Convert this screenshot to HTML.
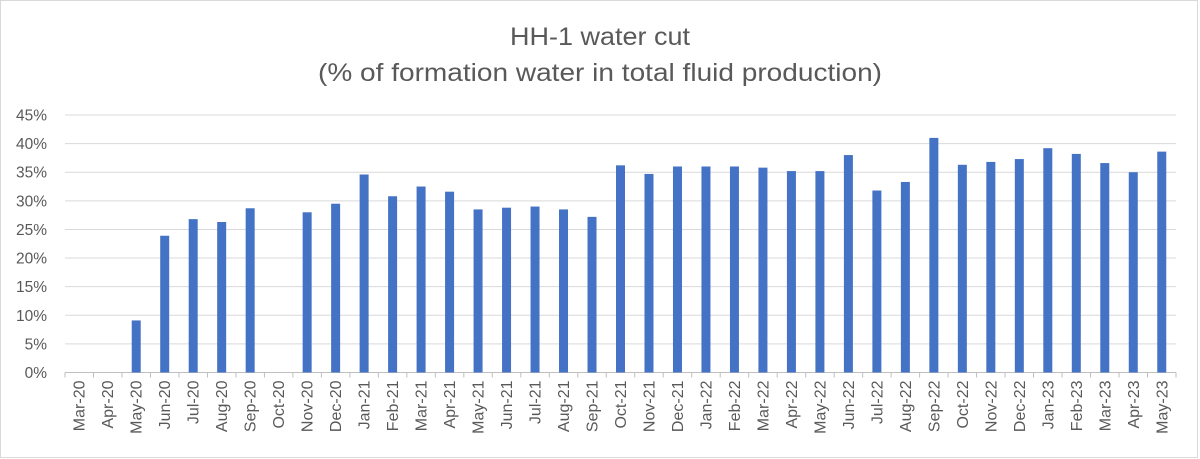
<!DOCTYPE html>
<html><head><meta charset="utf-8"><style>
html,body{margin:0;padding:0;background:#fff;}
svg{display:block;font-family:"Liberation Sans",sans-serif;}
</style></head><body>
<svg id="c" width="1200" height="459" xmlns="http://www.w3.org/2000/svg">
<rect x="0.5" y="0.5" width="1197" height="457" fill="#fff" stroke="#d9d9d9"/>
<text x="600" y="45" font-size="25" fill="#595959" text-anchor="middle" textLength="180" lengthAdjust="spacingAndGlyphs">HH-1 water cut</text>
<text x="600" y="81" font-size="25" fill="#595959" text-anchor="middle" textLength="564" lengthAdjust="spacingAndGlyphs">(% of formation water in total fluid production)</text>
<g id="g"></g>
</svg>
<script>
var g=document.getElementById('g'),ns="http://www.w3.org/2000/svg";
function el(t,a,txt){var e=document.createElementNS(ns,t);for(var k in a)e.setAttribute(k,a[k]);if(txt!=null)e.textContent=txt;g.appendChild(e);return e;}
var x0=65,x1=1176,y0=372.5,yt=115,per=(y0-yt)/45;
for(var i=0;i<=9;i++){var y=y0-i*5*per;
 if(i>0)el('line',{x1:x0,x2:x1,y1:y,y2:y,stroke:'#d9d9d9','stroke-width':1});
 el('text',{x:47,y:y+5.5,'font-size':15.5,fill:'#595959','text-anchor':'end'},(i*5)+'%');}
el('line',{x1:x0,x2:x1,y1:y0,y2:y0,stroke:'#bfbfbf','stroke-width':1});
var m=['Jan','Feb','Mar','Apr','May','Jun','Jul','Aug','Sep','Oct','Nov','Dec'];
var v=[0,0,9.1,23.9,26.8,26.3,28.7,0,28.0,29.5,34.6,30.8,32.5,31.6,28.5,28.8,29.0,28.5,27.2,36.2,34.7,36.0,36.0,36.0,35.8,35.2,35.2,38.0,31.8,33.3,41.0,36.3,36.8,37.3,39.2,38.2,36.6,35.0,38.6];
var n=39,w=(x1-x0)/n;
for(var i=0;i<n;i++){var cx=x0+(i+0.5)*w;
 if(v[i]>0){var h=v[i]*per;el('rect',{x:cx-4.5,y:y0-h,width:9,height:h,fill:'#4472c4'});}
 el('line',{x1:x0+i*w,x2:x0+i*w,y1:y0,y2:y0+5,stroke:'#bfbfbf'});
 var mi=(2+i)%12,yr=20+Math.floor((2+i)/12);
 el('text',{x:0,y:0,'font-size':16,fill:'#595959','text-anchor':'end',transform:'translate('+(cx+5.5)+','+(y0+8)+') rotate(-90)'},m[mi]+'-'+yr);}
el('line',{x1:x1,x2:x1,y1:y0,y2:y0+5,stroke:'#bfbfbf'});
</script>
</body></html>
